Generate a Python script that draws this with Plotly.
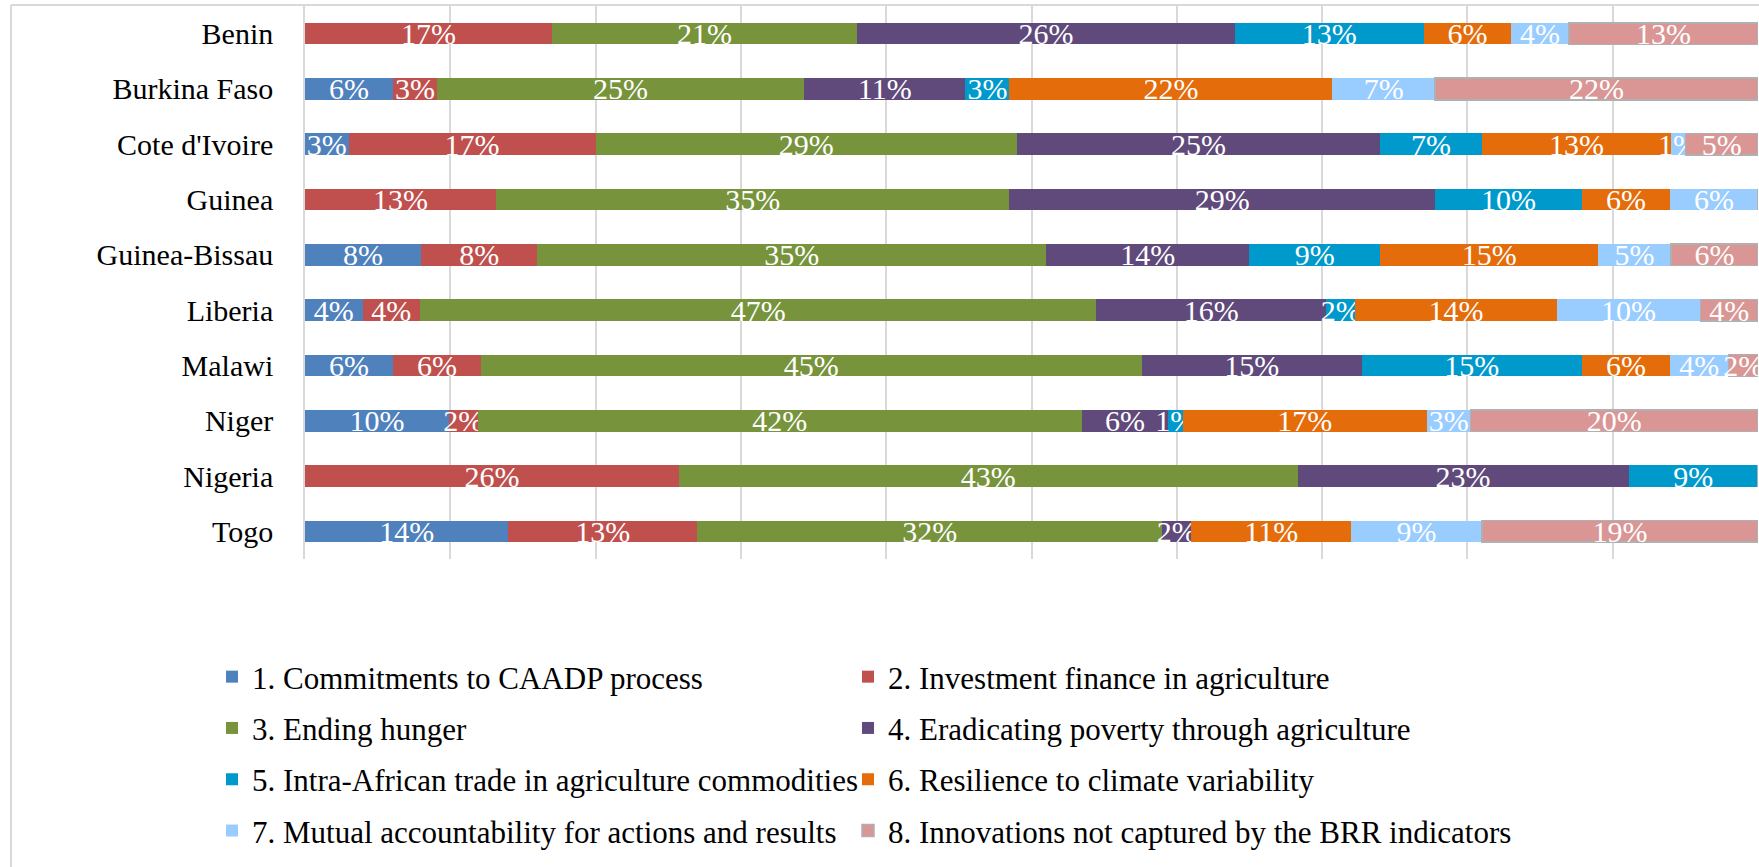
import plotly.graph_objects as go

countries = ["Benin", "Burkina Faso", "Cote d'Ivoire", "Guinea", "Guinea-Bissau",
             "Liberia", "Malawi", "Niger", "Nigeria", "Togo"]

series_names = [
    "1. Commitments to CAADP process",
    "2. Investment finance in agriculture",
    "3. Ending hunger",
    "4. Eradicating poverty through agriculture",
    "5. Intra-African trade in agriculture commodities",
    "6. Resilience to climate variability",
    "7. Mutual accountability for actions and results",
    "8. Innovations not captured by the BRR indicators",
]

s1_commitments = [0, 6, 3, 0, 8, 4, 6, 10, 0, 14]
s2_investment = [17, 3, 17, 13, 8, 4, 6, 2, 26, 13]
s3_hunger = [21, 25, 29, 35, 35, 47, 45, 42, 43, 32]
s4_poverty = [26, 11, 25, 29, 14, 16, 15, 6, 23, 2]
s5_trade = [13, 3, 7, 10, 9, 2, 15, 1, 9, 0]
s6_resilience = [6, 22, 13, 6, 15, 14, 6, 17, 0, 11]
s7_accountability = [4, 7, 1, 6, 5, 10, 4, 3, 0, 9]
s8_innovations = [13, 22, 5, 0, 6, 4, 2, 20, 0, 19]

colors = ["#4F81BD", "#C0504D", "#77933C", "#604A7B",
          "#0099CC", "#E46C0A", "#99CCFF", "#D99694"]

all_series = [s1_commitments, s2_investment, s3_hunger, s4_poverty,
              s5_trade, s6_resilience, s7_accountability, s8_innovations]

W, H = 1759, 867
L, R, T, B = 305, 1, 6, 308
pw, ph = W - L - R, H - T - B

FONT = "Liberation Serif"
FS = 30
LFS = 31

fig = go.Figure()
for i, (name, vals, col) in enumerate(zip(series_names, all_series, colors)):
    texts = [f"{v}%" if v > 0 else "" for v in vals]
    line = dict(width=1.5, color="#B0B0B0") if i == 7 else dict(width=0)
    fig.add_trace(go.Bar(
        y=countries, x=vals, name=name, orientation="h",
        marker=dict(color=col, line=line),
        text=texts, textposition="inside", insidetextanchor="middle",
        textangle=0,
        textfont=dict(family=FONT, size=FS, color="white"),
        legend="legend" if i % 2 == 0 else "legend2",
        legendgroup=f"g{i}",
        hoverinfo="skip",
    ))

leg_top = (ph + T - 650) / ph
fig.update_layout(
    width=W, height=H,
    margin=dict(l=L, r=R, t=T, b=B, autoexpand=False),
    barmode="stack", barnorm="percent", bargap=0.608,
    plot_bgcolor="white", paper_bgcolor="white",
    font=dict(family=FONT, size=FS, color="black"),
    uniformtext=dict(minsize=FS, mode="show"),
    xaxis=dict(range=[0, 100], dtick=10, showgrid=True, gridcolor="#D9D9D9",
               gridwidth=1.5, showticklabels=False, zeroline=False,
               showline=False, fixedrange=True, automargin=False),
    yaxis=dict(autorange="reversed", showgrid=False, showline=True,
               linecolor="#D9D9D9", linewidth=1.5, ticks="",
               ticklabelstandoff=24, automargin=False,
               tickfont=dict(family=FONT, size=FS, color="black")),
    legend=dict(x=(212 - L) / pw, xanchor="left", y=leg_top,
                yanchor="top", orientation="v", tracegroupgap=8,
                font=dict(family=FONT, size=LFS, color="black"),
                bgcolor="rgba(0,0,0,0)"),
    legend2=dict(x=(848 - L) / pw, xanchor="left", y=leg_top,
                 yanchor="top", orientation="v", tracegroupgap=8,
                 font=dict(family=FONT, size=LFS, color="black"),
                 bgcolor="rgba(0,0,0,0)"),
    showlegend=True,
)

# chart-area border (top and left edges visible in the reference)
top_y = (ph + T - 5) / ph
left_x = (11 - L) / pw
fig.add_shape(type="line", xref="paper", yref="paper", x0=left_x, x1=1.01,
              y0=top_y, y1=top_y, line=dict(color="#D9D9D9", width=2))
fig.add_shape(type="line", xref="paper", yref="paper", x0=left_x, x1=left_x,
              y0=top_y, y1=-(B + 5) / ph, line=dict(color="#D9D9D9", width=2))

fig.write_html("out.html",
               config={"displayModeBar": False},
               post_script="document.body.style.margin='0';"
                           "document.body.style.overflow='hidden';")
